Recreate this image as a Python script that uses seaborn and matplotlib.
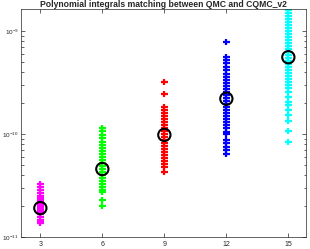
import numpy as np
import pandas as pd
import matplotlib
matplotlib.use("Agg")
import matplotlib.pyplot as plt
from matplotlib.ticker import FixedLocator
import seaborn as sns

# QMC points per polynomial degree
degrees = [3, 6, 9, 12, 15]
colors = ["#ff00ff", "#00ff00", "#ff0000", "#0000ff", "#00ffff"]

deg3 = [3.27, 3.06, 2.86, 2.67, 2.50, 2.39, 2.29, 2.19, 2.09, 2.05, 2.00, 1.96,
        1.91, 1.87, 1.83, 1.79, 1.75, 1.67, 1.56, 1.46, 1.40, 1.37]
deg6 = [11.43, 10.69, 9.78, 9.15, 8.36, 7.82, 7.31, 6.84, 6.39, 5.98, 5.59, 5.23,
        4.89, 4.57, 4.28, 4.00, 3.74, 3.50, 3.27, 3.06, 2.86, 2.74, 2.29, 2.00]
deg9 = [31.98, 24.45, 18.29, 17.10, 15.99, 14.95, 13.98, 13.08, 12.23, 11.43,
        10.69, 10.00, 9.35, 8.75, 8.18, 7.65, 7.15, 6.69, 6.25, 5.85, 5.47, 5.11,
        4.78, 4.28]
deg12 = [78.2, 55.9, 52.3, 48.9, 44.7, 41.8, 38.2, 35.8, 33.4, 31.3, 29.2, 27.4,
         25.6, 23.9, 22.4, 20.9, 19.6, 18.3, 17.1, 16.0, 14.95, 13.98, 13.08,
         12.23, 11.43, 10.46, 10.0, 8.75, 8.18, 7.48, 6.99, 6.39]
deg15 = [159.9, 149.6, 139.8, 130.8, 122.3, 114.3, 106.9, 100.0, 93.5, 87.5, 81.8,
         76.5, 71.5, 66.9, 62.5, 58.5, 54.7, 51.1, 47.8, 44.7, 41.8, 39.1, 36.6,
         34.2, 32.0, 29.9, 28.0, 25.6, 22.9, 20.5, 19.1, 17.1, 15.3, 13.4, 10.7,
         8.36]
# CQMC value for each degree (black circles)
cqmc = [1.91, 4.57, 9.8, 22.0, 55.6]
scale = 1e-11
y_major = [1e-11, 1e-10, 1e-9]
y_labels = ["$10^{-11}$", "$10^{-10}$", "$10^{-9}$"]

rows = []
for d, vals in zip(degrees, [deg3, deg6, deg9, deg12, deg15]):
    for v in vals:
        rows.append({"degree": d, "value": v * scale, "group": str(d)})
df = pd.DataFrame(rows)
df_c = pd.DataFrame({"degree": degrees, "value": np.array(cqmc) * scale})

sns.set_style("ticks")
plt.rcParams["font.family"] = ["Liberation Sans", "DejaVu Sans"]
plt.rcParams["mathtext.default"] = "regular"

fig = plt.figure(figsize=(3.10, 2.49), dpi=100)
ax = fig.add_axes([0.0668, 0.048, 0.920, 0.915])

sns.scatterplot(data=df, x="degree", y="value", hue="group",
                palette=dict(zip([str(d) for d in degrees], colors)),
                marker="+", s=22, linewidth=1.6, legend=False, ax=ax, zorder=2)
sns.scatterplot(data=df_c, x="degree", y="value", marker="o", s=78,
                facecolor="none", edgecolor="black", linewidth=1.5,
                legend=False, ax=ax, zorder=3)

ax.set_yscale("log")
ax.set_xlim(2.05, 15.85)
ax.set_ylim(1e-11, 1.625e-9)
ax.set_xticks(degrees)
ax.set_yticks(y_major, y_labels)
minor = [m * 10.0 ** e for e in (-11, -10, -9) for m in range(2, 10)]
ax.yaxis.set_minor_locator(FixedLocator([v for v in minor if v < 1.625e-9]))
ax.yaxis.set_minor_formatter(plt.NullFormatter())
ax.set_xlabel("")
ax.set_ylabel("")
ax.set_title("Polynomial integrals matching between QMC and CQMC_v2",
             fontsize=6.2, fontweight="bold", pad=1.5)

ax.tick_params(which="both", direction="in", top=True, right=True,
               colors="#262626", width=0.5)
ax.tick_params(axis="x", labelsize=5, pad=2.5)
ax.tick_params(axis="y", labelsize=4.6, pad=1.5)
ax.tick_params(which="major", length=3)
ax.tick_params(which="minor", length=1.8)
ax.tick_params(axis="x", which="minor", top=False, bottom=False)
for sp in ax.spines.values():
    sp.set_linewidth(0.5)
    sp.set_color("#262626")

fig.savefig("out.png", dpi=100)
